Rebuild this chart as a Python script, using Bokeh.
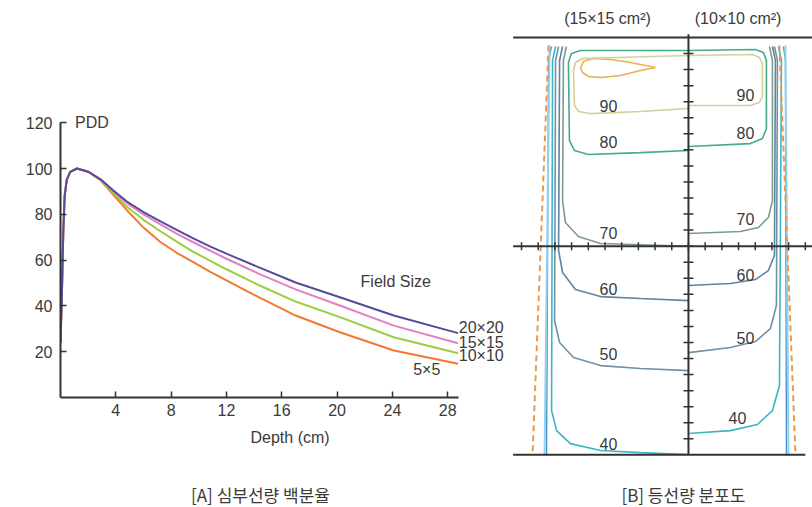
import numpy as np
from bokeh.plotting import figure
from bokeh.models import Range1d, FixedTicker, Label, Title
from bokeh.layouts import row, column
from bokeh.embed import file_html
from bokeh.resources import INLINE
from bokeh.core.properties import value

FONT = "Liberation Sans"
KFONT = "Noto Sans CJK KR"
TXT = "#3a3a3a"
AX = "#333333"

# ---------------- Panel A : percentage depth dose ----------------
depth = [0, 0.1, 0.2, 0.3, 0.45, 0.7, 1.2, 2.0, 2.9, 3.8, 4.8, 6.0, 7.2, 8.4, 9.6, 10.8, 12.0, 14.4, 17.0, 20.2, 24.1, 28.75]
pdd_20x20 = [24, 45, 72, 88, 95, 98.5, 100, 98.6, 95.3, 90.5, 85.6, 81.0, 77.0, 73.2, 69.5, 66.0, 62.8, 56.7, 50.2, 43.8, 35.8, 28.1]
pdd_15x15 = [24, 45, 72, 88, 95, 98.5, 100, 98.6, 95.2, 90.2, 84.9, 80.0, 75.7, 71.6, 67.8, 64.2, 60.6, 53.9, 47.2, 40.2, 31.4, 23.7]
pdd_10x10 = [24, 45, 72, 88, 95, 98.5, 100, 98.6, 95.0, 89.4, 83.3, 77.6, 72.7, 68.1, 63.6, 59.8, 56.0, 48.9, 41.9, 35.1, 26.3, 19.3]
pdd_5x5 = [24, 45, 72, 88, 95, 98.5, 100, 98.6, 94.8, 88.6, 81.8, 74.2, 68.0, 63.2, 59.1, 55.0, 51.1, 43.6, 35.8, 28.5, 20.5, 14.7]
field_labels = ["20×20", "15×15", "10×10", "5×5"]
field_colors = ["#574a96", "#e37fc4", "#9ccd3e", "#f07a32"]
x_ticks = [4, 8, 12, 16, 20, 24, 28]
y_ticks = [20, 40, 60, 80, 100, 120]

pA = figure(width=510, height=477, x_range=Range1d(0, 32.25), y_range=Range1d(0, 129.7),
            output_backend="svg", toolbar_location=None,
            min_border_left=60, min_border_right=4, min_border_top=100, min_border_bottom=80)
pA.frame_align = False
pA.grid.visible = False
pA.outline_line_color = None
for ax in (pA.xaxis[0], pA.yaxis[0]):
    ax.axis_line_color = AX
    ax.axis_line_width = 2
    ax.major_tick_line_color = AX
    ax.major_tick_line_width = 1.5
    ax.major_tick_in = 6
    ax.major_tick_out = 0
    ax.minor_tick_line_color = None
    ax.major_label_text_font = FONT
    ax.major_label_text_font_size = "16px"
    ax.major_label_text_color = TXT
pA.xaxis.bounds = (0, 28.75)
pA.yaxis.bounds = (0, 120)
pA.xaxis.ticker = FixedTicker(ticks=x_ticks)
pA.yaxis.ticker = FixedTicker(ticks=y_ticks)
pA.xaxis.major_label_standoff = 6
pA.yaxis.major_label_standoff = 8

series = [pdd_20x20, pdd_15x15, pdd_10x10, pdd_5x5]
for vals, col in reversed(list(zip(series, field_colors))):
    pA.line(depth, vals, line_color=col, line_width=2)

def lab(p, x, y, t, align="left", size="16px", font=FONT):
    p.add_layout(Label(x=x, y=y, text=t, text_align=align, text_baseline="middle",
                       text_font=font, text_font_size=size, text_color=TXT))

lab(pA, 1.05, 120, "PDD")
lab(pA, 21.7, 50.7, "Field  Size")
lab(pA, 28.8, 30.6, field_labels[0])
lab(pA, 28.8, 24.0, field_labels[1])
lab(pA, 28.8, 18.3, field_labels[2])
lab(pA, 25.5, 12.2, field_labels[3])

t_depth = Title(text="Depth (cm)", align="left", offset=190, standoff=16,
                text_font=FONT, text_font_size="16px", text_font_style="normal", text_color=TXT)
pA.add_layout(t_depth, "below")

# caption strip under panel A (pixel-like coordinates)
capA = figure(width=510, height=30, x_range=Range1d(0, 510), y_range=Range1d(0, 30),
              output_backend="svg", toolbar_location=None,
              x_axis_location=None, y_axis_location=None, min_border=0)
capA.frame_align = False
capA.grid.visible = False
capA.outline_line_color = None
capA.text(x=[260], y=[13], text=["[A] 심부선량 백분율"], text_align="center", text_baseline="middle",
          text_font=value(KFONT), text_font_size="17px", text_color=TXT)

# ---------------- Panel B : isodose distribution ----------------
# x: lateral position (tick units, central axis = 0); d: depth (tick units)
hot_x = [-6.47, -6.29, -5.75, -4.67, -3.47, -1.98, -2.87, -4.07, -5.27, -5.99, -6.35, -6.47]
hot_d = [1.87, 1.50, 1.31, 1.37, 1.56, 1.87, 2.06, 2.37, 2.49, 2.43, 2.18, 1.87]
iso90_x = [0, -2.87, -5.87, -6.59, -6.83, -6.89, -6.77, -6.35, 0, 3.83, 4.25, 4.43, 4.43, 4.25, 3.71, 0]
iso90_d = [4.42, 4.61, 4.74, 4.61, 4.24, 2.06, 1.56, 1.31, 1.12, 1.06, 1.25, 1.62, 3.68, 4.05, 4.24, 4.24]
iso80_x = [0, -2.87, -6.0, -6.83, -7.13, -7.19, -7.01, -6.47, 0, 4.01, 4.49, 4.67, 4.67, 4.43, 3.71, 0]
iso80_d = [7.04, 7.17, 7.29, 7.04, 6.42, 1.56, 1.0, 0.81, 0.81, 0.75, 0.93, 1.43, 5.67, 6.29, 6.61, 6.79]
iso70L_x = [-7.31, -7.49, -7.54, -7.37, -6.59, -5.27, 0]
iso70L_d = [0.56, 1.43, 10.16, 11.53, 12.40, 12.83, 13.0]
iso70R_x = [0, 3.11, 4.19, 4.79, 5.03, 5.03, 4.85]
iso70R_d = [12.21, 12.09, 11.84, 11.21, 10.16, 1.43, 0.56]
iso60L_x = [-7.54, -7.72, -7.78, -7.54, -6.77, -5.27, -2.87, 0]
iso60L_d = [0.56, 1.43, 13.27, 14.64, 15.70, 16.14, 16.26, 16.39]
iso60R_x = [0, 2.51, 4.01, 4.79, 5.15, 5.21, 5.03]
iso60R_d = [15.45, 15.33, 15.08, 14.52, 13.58, 1.43, 0.56]
iso50L_x = [-7.78, -7.96, -8.02, -7.72, -6.89, -5.27, -2.87, 0]
iso50L_d = [0.56, 1.43, 17.63, 19.00, 19.94, 20.44, 20.62, 20.75]
iso50R_x = [0, 2.51, 4.01, 4.91, 5.27, 5.33, 5.15]
iso50R_d = [19.63, 19.31, 18.94, 18.13, 16.70, 1.43, 0.56]
iso40L_x = [-7.96, -8.14, -8.20, -7.90, -7.07, -5.27, -2.87, 0]
iso40L_d = [0.56, 1.43, 23.24, 24.49, 25.30, 25.73, 25.86, 25.98]
iso40R_x = [0, 2.51, 4.13, 5.03, 5.45, 5.57, 5.39]
iso40R_d = [24.67, 24.49, 24.11, 23.24, 21.68, 1.43, 0.56]
blueL_x = [-8.20, -8.38, -8.50]
blueL_d = [0.56, 1.43, 26.04]
blueR_x = [5.69, 5.81, 5.87]
blueR_d = [0.56, 1.43, 26.04]
lightL_x = [-8.32, -8.62]
lightL_d = [0.5, 26.04]
lightR_x = [5.81, 5.99]
lightR_d = [0.5, 26.04]
edgeL_x = [-8.38, -9.34]
edgeL_d = [0.5, 26.04]
edgeR_x = [5.45, 6.41]
edgeR_d = [0.5, 26.04]

iso_labels = ["90", "80", "70", "60", "50", "40"]
lab_left_x = [-4.79] * 6
lab_left_d = [4.24, 6.54, 12.15, 15.64, 19.69, 25.30]
lab_right_x = [3.41, 3.41, 3.41, 3.41, 3.41, 2.93]
lab_right_d = [3.61, 5.98, 11.28, 14.77, 18.75, 23.68]

h_ticks = list(range(-10, 8))
v_ticks = list(range(1, 26))

pB = figure(width=302, height=507, x_range=Range1d(-10.66, 7.43), y_range=Range1d(29.28, -2.305),
            output_backend="svg", toolbar_location=None,
            x_axis_location=None, y_axis_location=None, min_border=0)
pB.frame_align = False
pB.grid.visible = False
pB.outline_line_color = None

pB.line(hot_x, hot_d, line_color="#e8b24e", line_width=1.6)
pB.line(iso90_x, iso90_d, line_color="#d6cf98", line_width=1.6)
pB.line(iso80_x, iso80_d, line_color="#45aa86", line_width=1.6)
for xs, ds in ((iso70L_x, iso70L_d), (iso70R_x, iso70R_d)):
    pB.line(xs, ds, line_color="#7d9a90", line_width=1.6)
for xs, ds in ((iso60L_x, iso60L_d), (iso60R_x, iso60R_d)):
    pB.line(xs, ds, line_color="#5e84a0", line_width=1.6)
for xs, ds in ((iso50L_x, iso50L_d), (iso50R_x, iso50R_d)):
    pB.line(xs, ds, line_color="#7091a6", line_width=1.6)
for xs, ds in ((iso40L_x, iso40L_d), (iso40R_x, iso40R_d)):
    pB.line(xs, ds, line_color="#3db4c6", line_width=1.6)
for xs, ds in ((blueL_x, blueL_d), (blueR_x, blueR_d)):
    pB.line(xs, ds, line_color="#4a92d2", line_width=1.4)
for xs, ds in ((lightL_x, lightL_d), (lightR_x, lightR_d)):
    pB.line(xs, ds, line_color="#92d2ea", line_width=2)
for xs, ds in ((edgeL_x, edgeL_d), (edgeR_x, edgeR_d)):
    pB.line(xs, ds, line_color="#e99a4c", line_width=2, line_dash="6 4")

# frame lines and central axes
pB.segment(x0=[-10.5, -10.5, -10.5], y0=[0, 13, 26], x1=[7.43, 7.43, 7.0], y1=[0, 13, 26],
           line_color=AX, line_width=2)
pB.segment(x0=[0], y0=[-0.2], x1=[0], y1=[26], line_color=AX, line_width=2)
pB.segment(x0=h_ticks, y0=[12.75] * len(h_ticks), x1=h_ticks, y1=[13.25] * len(h_ticks),
           line_color=AX, line_width=1.5)
pB.segment(x0=[-0.3] * len(v_ticks), y0=v_ticks, x1=[0.3] * len(v_ticks), y1=v_ticks,
           line_color=AX, line_width=1.5)

pB.text(x=lab_left_x, y=lab_left_d, text=iso_labels, text_align="center", text_baseline="middle",
        text_font=value(FONT), text_font_size="16px", text_color=TXT)
pB.text(x=lab_right_x, y=lab_right_d, text=iso_labels, text_align="center", text_baseline="middle",
        text_font=value(FONT), text_font_size="16px", text_color=TXT)
pB.text(x=[-4.85, 2.97], y=[-1.18, -1.18], text=["(15×15 cm²)", "(10×10 cm²)"],
        text_align="center", text_baseline="middle",
        text_font=value(FONT), text_font_size="16px", text_color=TXT)
pB.text(x=[-0.3], y=[28.47], text=["[B] 등선량 분포도"], text_align="center", text_baseline="middle",
        text_font=value(KFONT), text_font_size="17px", text_color=TXT)

layout = row(column(pA, capA), pB)
open("out.html", "w").write(file_html(layout, INLINE))
